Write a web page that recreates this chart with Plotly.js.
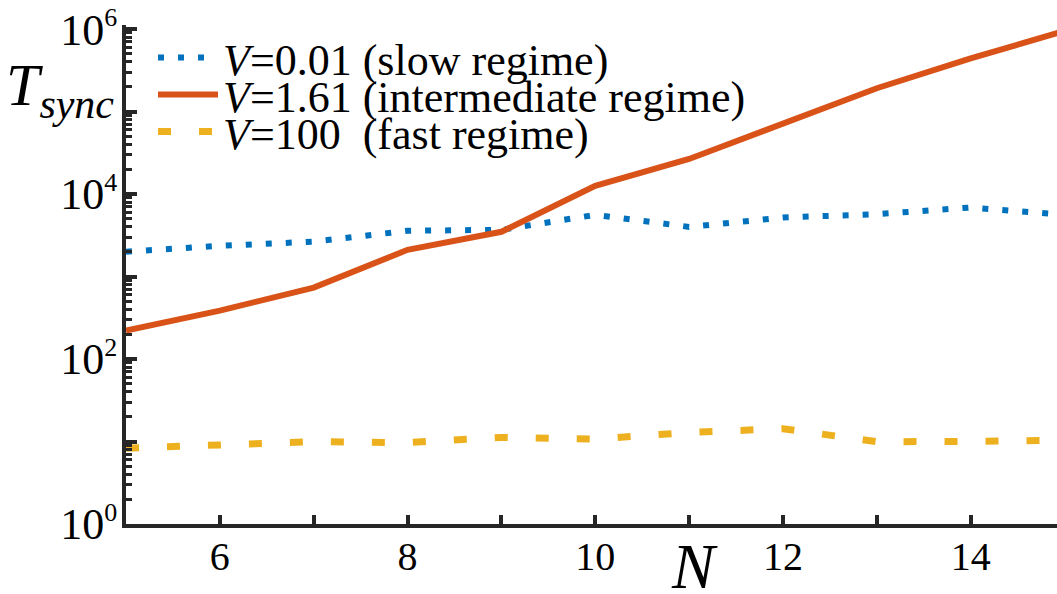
<!DOCTYPE html>
<html>
<head>
<meta charset="utf-8">
<script src="https://cdn.plot.ly/plotly-3.0.1.min.js"></script>
<style>html,body{margin:0;padding:0;background:#fff;overflow:hidden}#chart{width:1057px;height:594px}</style>
</head>
<body>
<div id="chart"></div>
<script>
// Data
const N = [5, 6, 7, 8, 9, 10, 11, 12, 13, 14, 15];
const slowT = [2000, 2360, 2650, 3590, 3690, 5600, 4000, 5200, 5710, 6870, 5600];
const interT = [222, 387, 734, 2110, 3490, 12560, 26650, 72600, 192000, 443000, 948000];
const fastT = [8.3, 9.0, 9.95, 9.7, 11.2, 10.7, 12.9, 14.3, 9.95, 10.0, 10.4];

const seriesNames = [
  '<i>V</i>=0.01 (slow regime)',
  '<i>V</i>=1.61 (intermediate regime)',
  '<i>V</i>=100\u00a0 (fast regime)'
];

const yTickVals = [1, 10, 100, 1000, 10000, 100000, 1000000];
const yExp = ['0', '', '2', '', '4', '', '6'];
const xTickVals = [5, 6, 7, 8, 9, 10, 11, 12, 13, 14, 15];
const xTickText = ['', '6', '', '8', '', '10', '', '12', '', '14', ''];

const FONT = 'Liberation Serif, Times New Roman, serif';
const AX = '#262626';
const yTickText = yExp.map(e => e === '' ? '' : '10<sup><span style="font-size:26px">' + e + '</span></sup>');

const traces = [
  {x: N, y: slowT, name: seriesNames[0], mode: 'lines', legend: 'legend',
   line: {color: '#0072BD', width: 6, dash: '6px,14px'}},
  {x: N, y: interT, name: seriesNames[1], mode: 'lines', legend: 'legend2',
   line: {color: '#D95319', width: 6}},
  {x: N, y: fastT, name: seriesNames[2], mode: 'lines', legend: 'legend3',
   line: {color: '#EDB120', width: 7, dash: '13px,28px'}}
];

const PL = 126, PT = 25, PB = 70, PW = 1057 - PL, PH = 594 - PT - PB;
function leg(yc) {
  return {x: (153 - PL) / PW, y: (PT + PH - yc) / PH, xref: 'paper', yref: 'paper',
    xanchor: 'left', yanchor: 'middle', bgcolor: 'rgba(0,0,0,0)', borderwidth: 0,
    itemwidth: 60, font: {family: FONT, size: 44, color: '#000'}};
}

const layout = {
  width: 1057, height: 594,
  margin: {l: PL, r: 0, t: PT, b: PB, autoexpand: false},
  paper_bgcolor: '#fff', plot_bgcolor: '#fff',
  showlegend: true,
  legend: leg(58), legend2: leg(95), legend3: leg(132),
  xaxis: {
    range: [5, 14.92], showgrid: false, zeroline: false,
    showline: true, linecolor: AX, linewidth: 4,
    tickmode: 'array', tickvals: xTickVals, ticktext: xTickText,
    ticks: 'inside', ticklen: 9, tickwidth: 4, tickcolor: AX,
    ticklabelstandoff: -6,
    tickfont: {family: FONT, size: 40, color: '#000'}
  },
  yaxis: {
    type: 'log', range: [0, 6.05], showgrid: false, zeroline: false,
    showline: true, linecolor: AX, linewidth: 4,
    tickmode: 'array', tickvals: yTickVals, ticktext: yTickText,
    ticks: 'inside', ticklen: 11, tickwidth: 4, tickcolor: AX,
    ticklabelstandoff: -4,
    tickfont: {family: FONT, size: 44, color: '#000'},
    minor: {dtick: 'D1', ticks: 'inside', ticklen: 6, tickwidth: 3, tickcolor: AX, showgrid: false}
  },
  annotations: [
    {text: '<i>T</i><sub><i>sync</i></sub>', xref: 'paper', yref: 'paper',
     x: -0.131, y: (PT + PH - 89) / PH, xanchor: 'left', yanchor: 'middle', showarrow: false,
     font: {family: FONT, size: 60, color: '#000'}},
    {text: '<i>N</i>', xref: 'x', yref: 'paper', x: 11.06, y: -(566 - PT - PH) / PH,
     xanchor: 'center', yanchor: 'middle', showarrow: false,
     font: {family: FONT, size: 64, color: '#000'}}
  ]
};

Plotly.newPlot('chart', traces, layout, {displayModeBar: false, staticPlot: true});
</script>
</body>
</html>
